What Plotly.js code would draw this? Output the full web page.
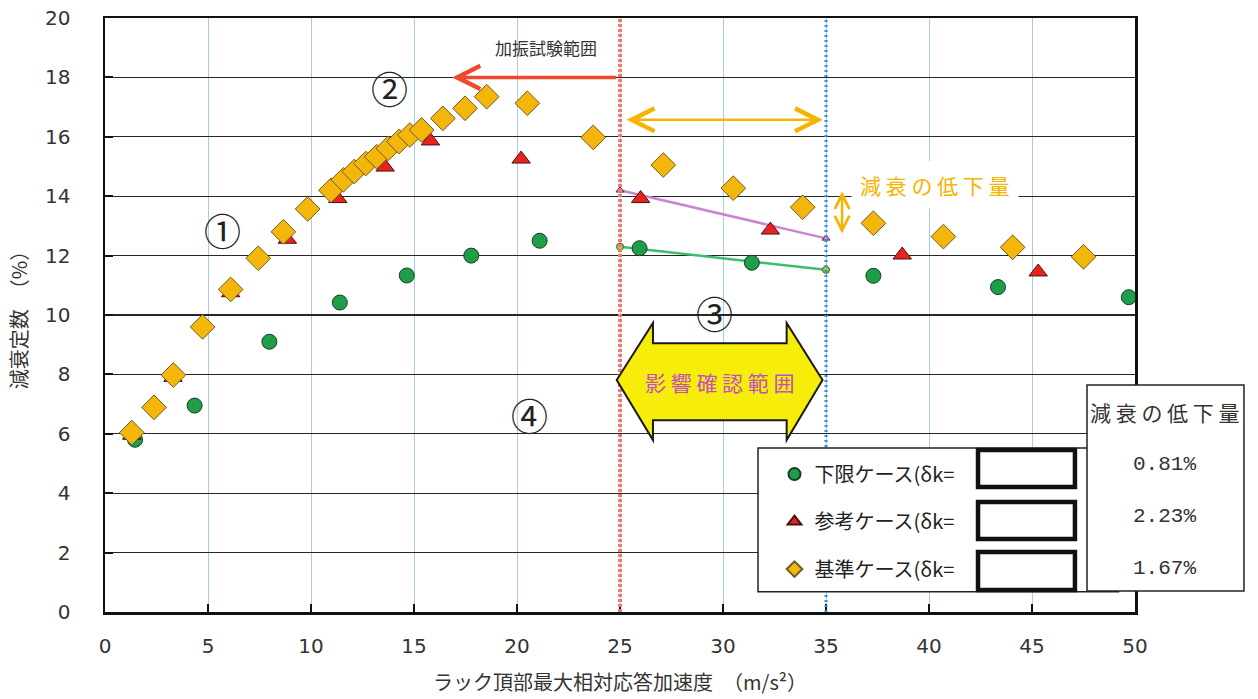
<!DOCTYPE html>
<html><head><meta charset="utf-8">
<script src="https://cdn.plot.ly/plotly-3.0.1.min.js"></script>
<style>body{margin:0;background:#fff}#chart{width:1258px;height:699px}</style>
</head><body><div id="chart"></div>
<script>
// ---- data ----
const lowerX = [1.46, 4.35, 7.98, 11.4, 14.65, 17.78, 21.1, 25.95, 31.4, 37.3, 43.35, 49.7];
const lowerY = [5.8, 6.95, 9.1, 10.42, 11.33, 12.0, 12.5, 12.25, 11.76, 11.32, 10.94, 10.6];
const refX = [1.3, 3.3, 6.1, 8.85, 11.3, 13.6, 15.8, 20.2, 26.0, 32.3, 38.7, 45.3];
const refY = [5.95, 7.9, 10.75, 12.55, 13.92, 14.98, 15.86, 15.25, 13.92, 12.86, 12.02, 11.45];
const baseX = [1.3, 2.38, 3.32, 4.74, 6.1, 7.44, 8.66, 9.84, 10.97, 11.57, 12.1, 12.66, 13.19, 13.75, 14.27, 14.8, 15.37, 16.4, 17.48, 18.53, 20.5, 23.7, 27.1, 30.5, 33.87, 37.3, 40.7, 44.06, 47.5];
const baseY = [6.04, 6.89, 7.98, 9.6, 10.86, 11.91, 12.8, 13.57, 14.2, 14.55, 14.83, 15.1, 15.33, 15.61, 15.84, 16.06, 16.23, 16.62, 16.96, 17.35, 17.13, 15.98, 15.05, 14.27, 13.63, 13.09, 12.64, 12.28, 11.96];
const refTrendX = [25, 35];
const refTrendY = [14.2, 12.58];
const lowTrendX = [25, 35];
const lowTrendY = [12.3, 11.52];
const caseNames = ['下限ケース(δk=', '参考ケース(δk=', '基準ケース(δk='];
const reductions = ['0.81%', '2.23%', '1.67%'];
const xTickVals = [0, 5, 10, 15, 20, 25, 30, 35, 40, 45, 50];
const yTickVals = [0, 2, 4, 6, 8, 10, 12, 14, 16, 18, 20];
const testRange = [25, 35];

const JP = 'Noto Sans CJK JP';

const traces = [
  {x: lowTrendX, y: lowTrendY, mode: 'lines+markers', showlegend: false, hoverinfo: 'skip',
   line: {color: '#3cbf6a', width: 2.5},
   marker: {symbol: 'circle', size: 7, color: '#a3cf3c', line: {color: '#2f5f2f', width: 1}}},
  {x: refTrendX, y: refTrendY, mode: 'lines+markers', showlegend: false, hoverinfo: 'skip',
   line: {color: '#c985cf', width: 2.5},
   marker: {symbol: 'triangle-up', size: 7, color: '#c78ad6', line: {color: '#4a2a4a', width: 1}}},
  {x: lowerX, y: lowerY, mode: 'markers', name: caseNames[0], legendgroup: 'a',
   marker: {symbol: 'circle', size: 15, color: '#1f9e4a', line: {color: '#173f1f', width: 1}}},
  {x: refX, y: refY, mode: 'markers', name: caseNames[1], legendgroup: 'b',
   marker: {symbol: 'triangle-up', size: 16, color: '#e8231e', line: {color: '#4a1010', width: 1}}},
  {x: baseX, y: baseY, mode: 'markers', name: caseNames[2], legendgroup: 'c',
   marker: {symbol: 'diamond', size: 19, color: '#f3b70c', line: {color: '#6e5a26', width: 1}}}
];

const shapes = [
  {type: 'line', xref: 'x', yref: 'paper', x0: testRange[0], x1: testRange[0], y0: 0, y1: 1, layer: 'above',
   line: {color: '#f37a6c', width: 4, dash: '3px,2px'}},
  {type: 'line', xref: 'x', yref: 'paper', x0: testRange[1], x1: testRange[1], y0: 0, y1: 1, layer: 'above',
   line: {color: '#2a8fdc', width: 3, dash: '2px,3px'}},
  // big yellow double arrow
  {type: 'path', xref: 'x', yref: 'y', layer: 'above',
   path: 'M24.84,7.81 L26.6,9.73 L26.6,9.05 L33.09,9.05 L33.09,9.73 L34.83,7.81 L33.09,5.79 L33.09,6.46 L26.6,6.46 L26.6,5.79 Z',
   fillcolor: '#f6ee0a', line: {color: '#1a1a1a', width: 2}},
  // legend box
  {type: 'rect', xref: 'paper', yref: 'paper', x0: 0.634, x1: 0.984, y0: 0.034, y1: 0.276, layer: 'above',
   fillcolor: '#ffffff', line: {color: '#222', width: 1.5}},
  // value cover boxes
  {type: 'rect', xref: 'paper', yref: 'paper', x0: 0.8476, x1: 0.9417, y0: 0.2104, y1: 0.2727, layer: 'above',
   fillcolor: '#ffffff', line: {color: '#111', width: 4.5}},
  {type: 'rect', xref: 'paper', yref: 'paper', x0: 0.8476, x1: 0.9417, y0: 0.1229, y1: 0.1852, layer: 'above',
   fillcolor: '#ffffff', line: {color: '#111', width: 4.5}},
  {type: 'rect', xref: 'paper', yref: 'paper', x0: 0.8476, x1: 0.9417, y0: 0.0370, y1: 0.1010, layer: 'above',
   fillcolor: '#ffffff', line: {color: '#111', width: 4.5}},
  // table box
  {type: 'rect', xref: 'paper', yref: 'paper', x0: 0.9534, x1: 1.1058, y0: 0.0354, y1: 0.3822, layer: 'above',
   fillcolor: '#ffffff', line: {color: '#222', width: 1.5}}
];

const circ = (t, x, y) => ({text: t, x: x, y: y, xref: 'x', yref: 'y', showarrow: false,
  font: {family: JP, size: 37, color: '#222'}});

const tableText = (t, y, fam) => ({text: t, x: 1.029, y: y, xref: 'paper', yref: 'paper', showarrow: false,
  xanchor: 'center', yanchor: 'middle', font: {family: fam, size: 21, color: '#333'}});

const annotations = [
  circ('①', 5.68, 12.86), circ('②', 13.83, 17.64), circ('③', 29.6, 10.07), circ('④', 20.63, 6.63),
  {text: '加振試験範囲', x: 21.4, y: 19.02, xref: 'x', yref: 'y', showarrow: false,
   font: {family: JP, size: 17, color: '#333'}},
  // red arrow
  {text: '', x: 16.85, y: 18, ax: 24.9, ay: 18, xref: 'x', yref: 'y', axref: 'x', ayref: 'y',
   showarrow: true, arrowhead: 5, arrowsize: 1.3, arrowwidth: 3.5, arrowcolor: '#f0482f'},
  // orange horizontal double arrow
  {text: '', x: 34.85, y: 16.57, ax: 25.25, ay: 16.57, xref: 'x', yref: 'y', axref: 'x', ayref: 'y',
   showarrow: true, arrowside: 'end+start', arrowhead: 5, startarrowhead: 5, arrowsize: 1.8, startarrowsize: 1.8,
   arrowwidth: 2.5, arrowcolor: '#f6b400'},
  // orange vertical double arrow
  {text: '', x: 35.78, y: 12.74, ax: 35.78, ay: 14.22, xref: 'x', yref: 'y', axref: 'x', ayref: 'y',
   showarrow: true, arrowside: 'end+start', arrowhead: 5, startarrowhead: 5, arrowsize: 1.15, startarrowsize: 1.15,
   arrowwidth: 2.5, arrowcolor: '#f6b400'},
  {text: '減 衰 の 低 下 量', x: 40.3, y: 14.38, xref: 'x', yref: 'y', showarrow: false,
   bgcolor: '#ffffff', borderpad: 8, font: {family: JP, size: 21, color: '#f4b400'}},
  {text: '影 響 確 認 範 囲', x: 29.85, y: 7.74, xref: 'x', yref: 'y', showarrow: false,
   font: {family: JP, size: 21, color: '#c050c0'}},
  // table
  tableText('減 衰 の 低 下 量', 0.3367, JP),
  tableText(reductions[0], 0.2475, 'Liberation Mono'),
  tableText(reductions[1], 0.160, 'Liberation Mono'),
  tableText(reductions[2], 0.074, 'Liberation Mono')
];

const layout = {
  width: 1258, height: 699,
  margin: {l: 105, r: 123, t: 18, b: 87},
  paper_bgcolor: '#ffffff', plot_bgcolor: '#ffffff',
  font: {family: JP, color: '#222'},
  xaxis: {range: [0, 50], tickvals: xTickVals, ticktext: xTickVals.map(String),
    ticks: 'inside', ticklen: 8, tickwidth: 2, tickcolor: '#111',
    showline: true, linecolor: '#111', linewidth: 2.5, mirror: true,
    showgrid: true, gridcolor: '#a9cde2', gridwidth: 1, zeroline: false,
    tickfont: {family: 'DejaVu Sans', size: 20, color: '#333'}, ticklabelstandoff: 14,
    title: {text: 'ラック頂部最大相対応答加速度　（m/s²）', font: {family: JP, size: 20, color: '#333'}, standoff: 20}},
  yaxis: {range: [0, 20], tickvals: yTickVals, ticktext: yTickVals.map(String),
    ticks: 'inside', ticklen: 8, tickwidth: 2, tickcolor: '#111',
    showline: true, linecolor: '#111', linewidth: 2.5, mirror: true,
    showgrid: true, gridcolor: '#262626', gridwidth: 1.3, zeroline: false,
    tickfont: {family: 'DejaVu Sans', size: 20, color: '#333'}, ticklabelstandoff: 28,
    title: {text: '減衰定数　（%）', font: {family: JP, size: 20, color: '#333'}, standoff: 12}},
  legend: {x: 0.65, xanchor: 'left', y: 0.265, yanchor: 'top', bgcolor: 'rgba(0,0,0,0)', borderwidth: 0,
    font: {family: JP, size: 20, color: '#222'}, itemsizing: 'constant', tracegroupgap: 18.5, traceorder: 'grouped'},
  shapes: shapes,
  annotations: annotations,
  showlegend: true
};

Plotly.newPlot('chart', traces, layout, {displayModeBar: false, staticPlot: true});
</script>
</body></html>
